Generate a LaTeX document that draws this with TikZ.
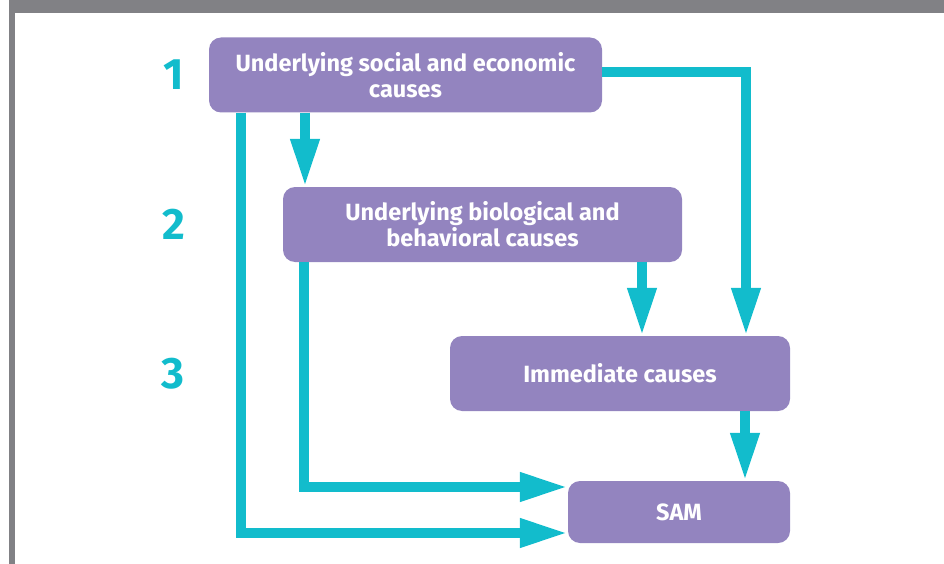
\documentclass[tikz,border=0pt]{standalone}
\usepackage{fontspec}
\setmainfont{Fira Sans}
\usetikzlibrary{arrows.meta,positioning}

\definecolor{causefill}{HTML}{9384BF}
\definecolor{flowteal}{HTML}{12BCCC}
\definecolor{framegray}{HTML}{818185}

\begin{document}
\begin{tikzpicture}[x=1pt,y=-1pt,>={Triangle[length=48pt,width=27pt]},
	cause/.style={rectangle,rounded corners=12pt,fill=causefill,text=white,inner sep=0pt,
		align=center,font=\fontsize{23.5}{26}\selectfont\bfseries},
	level/.style={text=flowteal,inner sep=0pt,font=\fontsize{44}{44}\selectfont\bfseries},
	flow/.style={->,draw=flowteal,line width=10pt}]

\useasboundingbox (0,0) rectangle (944,564);
\fill[framegray] (9,0) rectangle (944,13);
\fill[framegray] (9,0) rectangle (15,564);

\node[cause,minimum width=393pt,minimum height=75pt] (social)	at (405.5,75)	{Underlying social and economic\\causes};
 \node[cause,minimum width=399pt,minimum height=75pt] (bio)	at (482.5,224.5)	{Underlying biological and\\behavioral causes};
 \node[cause,minimum width=340pt,minimum height=75pt] (immediate)	at (620,373.5)	{Immediate causes};
 \node[cause,minimum width=222pt,minimum height=62pt] (sam)	at (679,512)	{SAM};

\node[level,left=25pt of social]	(one)	{1};
 \node[level]	(two)	at (one |- bio)	{2};
 \node[level]	(three)	at (one |- immediate)	{3};

\coordinate (bendsocial)	at (241,533);
 \coordinate (bendbio)	at (304,487);
 \coordinate (downbio)	at (305,0);
 \coordinate (bendright)	at (746,72);
 \coordinate (downimm)	at (642,0);
 \coordinate (downsam)	at (745,0);

\draw[flow] (social.south -| downbio) -- (bio.north -| downbio);
 \draw[flow] (social.east |- bendright) -| (immediate.north -| bendright);
 \draw[flow] (bio.south -| downimm) -- (immediate.north -| downimm);
 \draw[flow] (immediate.south -| downsam) -- (sam.north -| downsam);
 \draw[flow] (bio.south -| bendbio) |- (sam.west |- bendbio);
 \draw[flow] (social.south -| bendsocial) |- (sam.west |- bendsocial);

\end{tikzpicture}
\end{document}
